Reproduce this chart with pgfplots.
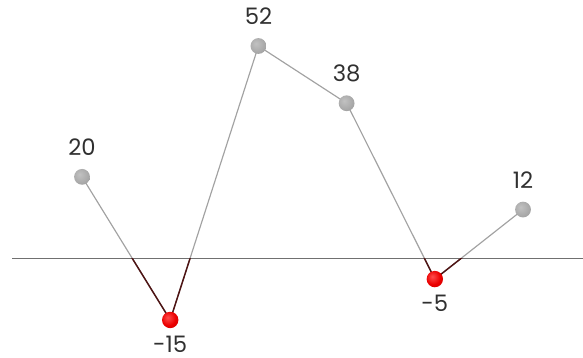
\documentclass[border=0pt]{standalone}
\usepackage{pgfplots}
\pgfplotsset{compat=1.18}
\usepackage{fontspec}
\setmainfont{Poppins}
\definecolor{linegrey}{HTML}{A2A2A2}
\definecolor{negline}{HTML}{4E1414}
\definecolor{zeroline}{HTML}{707070}
\definecolor{labelgrey}{HTML}{303030}

% flat-looking shaded balls for the markers
\pgfdeclareradialshading{greyball}{\pgfpoint{-8bp}{8bp}}{%
  color(0bp)=(black!24); color(25bp)=(black!34); color(50bp)=(black!46); color(75bp)=(black!58)}
\pgfdeclareradialshading{redball}{\pgfpoint{-8bp}{8bp}}{%
  color(0bp)=(red!70!white); color(22bp)=(red!92!black); color(48bp)=(red!75!black); color(75bp)=(red!50!black)}
\pgfdeclareplotmark{gball}{\pgfpathcircle{\pgfpointorigin}{\pgfplotmarksize}\pgfshadepath{greyball}{0}\pgfusepath{discard}}
\pgfdeclareplotmark{rball}{\pgfpathcircle{\pgfpointorigin}{\pgfplotmarksize}\pgfshadepath{redball}{0}\pgfusepath{discard}}

\begin{document}
\begin{tikzpicture}
\pgfplotsset{
  base/.style={
    scale only axis,
    width=14cm,
    xmin=-0.93, xmax=5.68,
    hide axis,
    at={(0,0)}, anchor=south west,
  }
}
% main layer: zero line and grey line
\begin{axis}[base, height=8.597cm, ymin=-24.3, ymax=63.25]
\draw[draw=none] (rel axis cs:0,0) rectangle (rel axis cs:1,1);
\addplot[zeroline, line width=0.8pt] coordinates {(-0.79,0) (5.68,0)};
\addplot[linegrey, line width=0.8pt] coordinates {(0,20) (1,-15) (2,52) (3,38) (4,-5) (5,12)};
\end{axis}
% below-zero part of the line in dark red (clipped at y=0)
\begin{axis}[base, height=2.386cm, ymin=-24.3, ymax=0]
\addplot[negline, line width=1pt] coordinates {(0,20) (1,-15) (2,52) (3,38) (4,-5) (5,12)};
\end{axis}
% markers and labels
\begin{axis}[base, height=8.597cm, ymin=-24.3, ymax=63.25, clip=false,
  nodes near coords, point meta=explicit symbolic,
  every node near coord/.append style={font=\fontsize{15.5}{18}\selectfont, text=labelgrey, inner sep=0pt}]
\addplot[only marks, mark=gball, mark size=5.4pt,
  every node near coord/.append style={anchor=south, yshift=14.3pt}]
  coordinates {(0,20) [20] (2,52) [52] (3,38) [38] (5,12) [12]};
\addplot[only marks, mark=rball, mark size=5.6pt,
  every node near coord/.append style={anchor=north, yshift=-10.5pt}]
  coordinates {(1,-15) [-15] (4,-5) [-5]};
\end{axis}
\end{tikzpicture}
\end{document}
